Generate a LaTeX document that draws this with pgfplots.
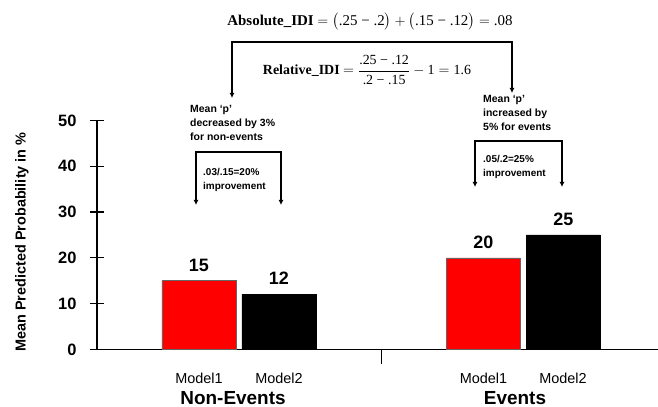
\documentclass[border=0pt]{standalone}
\usepackage{amsmath}
\usepackage{fontspec}
\setmainfont{Liberation Sans}
\newfontfamily\timesfont{Liberation Serif}
\usepackage{pgfplots}
\pgfplotsset{compat=1.18}
\usetikzlibrary{arrows.meta}
\definecolor{barred}{RGB}{255,0,0}
\begin{document}
\begin{tikzpicture}
\useasboundingbox (0,0) rectangle (658bp,407bp);
\begin{axis}[
  at={(97bp,57.5bp)}, anchor=south west,
  scale only axis, width=561bp, height=229bp,
  xmin=-0.499, xmax=1.473, ymin=0, ymax=50,
  axis x line=bottom, axis y line=left,
  axis line style={line width=1.2bp,-},
  xtick={0.5}, xticklabels={},
  ytick={0,10,20,30,40,50},
  tick align=center, major tick length=14bp,
  tick style={line width=1.2bp,black},
  /pgf/number format/assume math mode=true,
  yticklabel style={font=\fontsize{16.5}{18}\selectfont\bfseries, xshift=-10bp},
  clip=false,
  ybar, bar width=0.26, bar shift=0pt,
  nodes near coords,
  every node near coord/.append style={font=\fontsize{18}{20}\selectfont\bfseries, anchor=south, yshift=6bp},
]
\addplot[fill=barred, draw=black!60, line width=0.6bp] coordinates {(-0.1406,15) (0.8594,20)};
\addplot[fill=black, draw=black, line width=0.6bp] coordinates {(0.1406,12) (1.1406,25)};
\end{axis}
\begin{scope}[x=1bp,y=1bp]
% y label
\node[rotate=90, font=\fontsize{14.5}{16}\selectfont\bfseries] at (22,165) {Mean Predicted Probability in \%};
% x labels
\foreach \xx/\tt in {199/Model1, 279/Model2, 483.5/Model1, 563/Model2}
  \node[font=\fontsize{14.5}{16}\selectfont] at (\xx,29) {\tt};
\node[inner sep=0pt, font=\fontsize{19}{21}\selectfont\bfseries] at (233,9) {Non-Events};
\node[inner sep=0pt, font=\fontsize{19}{21}\selectfont\bfseries] at (515,9) {Events};
% formulas
\node[inner sep=0pt, font=\timesfont\fontsize{15}{17}\selectfont] at (370,385) {\textbf{Absolute\_IDI} $=\bigl(\text{.25 − .2}\bigr)+\bigl(\text{.15 − .12}\bigr)=\text{.08}$};
\node[font=\timesfont\fontsize{14}{16}\selectfont] at (367,337) {\textbf{Relative\_IDI} $=\dfrac{\text{.25 − .12}}{\text{.2 − .15}}-\text{1}=\text{1.6}$};
% top bracket
\draw[line width=1.3bp, {Latex[length=5bp,width=5bp]}-{Latex[length=5bp,width=5bp]}] (232,309) -- (232,365) -- (512,365) -- (512,314);
% left annotations
\node[anchor=north west, align=left, inner sep=0pt, font=\fontsize{10.5}{14}\selectfont\bfseries] at (190,302) {Mean ‘p’\\decreased by 3\%\\for non-events};
\draw[line width=1.1bp, {Latex[length=5bp,width=5bp]}-{Latex[length=5bp,width=5bp]}] (196,202) -- (196,255) -- (281,255) -- (281,202);
\node[anchor=north west, align=left, inner sep=0pt, font=\fontsize{10}{14}\selectfont\bfseries] at (203,239) {.03/.15=20\%\\improvement};
% right annotations
\node[anchor=north west, align=left, inner sep=0pt, font=\fontsize{10.5}{14}\selectfont\bfseries] at (483,312) {Mean ‘p’\\increased by\\5\% for events};
\draw[line width=1.1bp, {Latex[length=5bp,width=5bp]}-{Latex[length=5bp,width=5bp]}] (475,220) -- (475,266) -- (562,266) -- (562,220);
\node[anchor=north west, align=left, inner sep=0pt, font=\fontsize{10}{14}\selectfont\bfseries] at (483,252) {.05/.2=25\%\\improvement};
\end{scope}
\end{tikzpicture}
\end{document}
